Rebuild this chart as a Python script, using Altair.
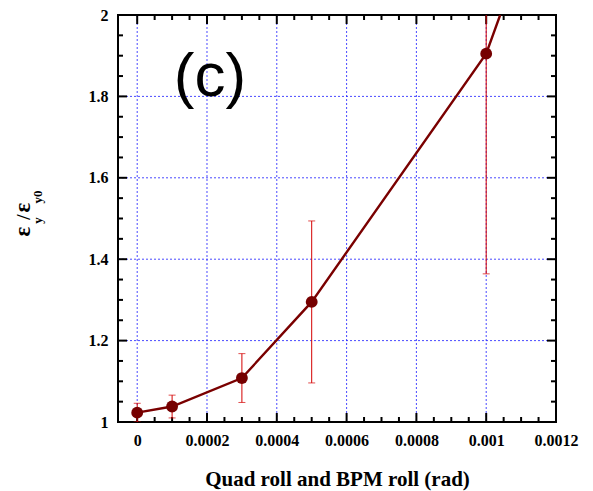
import altair as alt
import pandas as pd

# ---- data ----
roll = [0.0, 0.0001, 0.0003, 0.0005, 0.001]
ratio = [1.023, 1.038, 1.108, 1.295, 1.905]
err = [0.023, 0.028, 0.060, 0.199, 0.541]

curve_roll = [0.0, 0.0001, 0.0003, 0.0005, 0.001, 0.00104]
curve_ratio = [1.023, 1.038, 1.108, 1.295, 1.905, 2.0]

x_major = [0.0, 0.0002, 0.0004, 0.0006, 0.0008, 0.001, 0.0012]
x_minor = [0.00005, 0.0001, 0.00015, 0.00025, 0.0003, 0.00035, 0.00045, 0.0005,
           0.00055, 0.00065, 0.0007, 0.00075, 0.00085, 0.0009, 0.00095, 0.00105,
           0.0011, 0.00115]
y_major = [1.0, 1.2, 1.4, 1.6, 1.8, 2.0]
y_minor = [1.05, 1.1, 1.15, 1.25, 1.3, 1.35, 1.45, 1.5, 1.55, 1.65, 1.7, 1.75,
           1.85, 1.9, 1.95]
x_grid = [0.0, 0.0002, 0.0004, 0.0006, 0.0008, 0.001]
y_grid = [1.2, 1.4, 1.6, 1.8]

x_title = "Quad roll and BPM roll (rad)"
panel_label = "(c)"

pts = pd.DataFrame({"roll": roll, "ratio": ratio, "err": err})
pts["lo"] = pts["ratio"] - pts["err"]
pts["hi"] = pts["ratio"] + pts["err"]
curve = pd.DataFrame({"roll": curve_roll, "ratio": curve_ratio})

SERIF = "Liberation Serif"
SANS = "Liberation Sans"
W, H = 438, 407
MAJ, MIN = 9, 5
xs = alt.Scale(domain=[-0.000055, 0.0012], nice=False, zero=False)
ys = alt.Scale(domain=[1.0, 2.0], nice=False, zero=False)
GRID = "#2a2aff"

# grid lines
vgrid = alt.Chart(pd.DataFrame({"v": x_grid})).mark_rule(
    color=GRID, strokeDash=[2, 2], strokeWidth=1, opacity=0.85
).encode(x=alt.X("v:Q", scale=xs, axis=None))
hgrid = alt.Chart(pd.DataFrame({"v": y_grid})).mark_rule(
    color=GRID, strokeDash=[2, 2], strokeWidth=1, opacity=0.85
).encode(y=alt.Y("v:Q", scale=ys, axis=None))


# inward ticks on all four sides
def xticks(vals, length):
    d = pd.DataFrame({"v": vals})
    b = alt.Chart(d).mark_rule(color="black", strokeWidth=2).encode(
        x=alt.X("v:Q", scale=xs, axis=None), y=alt.value(H - length), y2=alt.value(H))
    t = alt.Chart(d).mark_rule(color="black", strokeWidth=2).encode(
        x=alt.X("v:Q", scale=xs, axis=None), y=alt.value(0), y2=alt.value(length))
    return b + t


def yticks(vals, length):
    d = pd.DataFrame({"v": vals})
    l = alt.Chart(d).mark_rule(color="black", strokeWidth=2).encode(
        y=alt.Y("v:Q", scale=ys, axis=None), x=alt.value(0), x2=alt.value(length))
    r = alt.Chart(d).mark_rule(color="black", strokeWidth=2).encode(
        y=alt.Y("v:Q", scale=ys, axis=None), x=alt.value(W - length), x2=alt.value(W))
    return l + r


ticks = xticks(x_major, MAJ) + xticks(x_minor, MIN) + yticks(y_major, MAJ) + yticks(y_minor, MIN)

bars = alt.Chart(pts).mark_rule(color="#d40000", strokeWidth=1, clip=True).encode(
    x=alt.X("roll:Q", scale=xs, axis=None),
    y=alt.Y("lo:Q", scale=ys, axis=None),
    y2="hi:Q",
)
caps_lo = alt.Chart(pts).mark_tick(color="#d40000", orient="horizontal", size=7,
                                   thickness=1, clip=True).encode(
    x=alt.X("roll:Q", scale=xs, axis=None),
    y=alt.Y("lo:Q", scale=ys, axis=None),
)
caps_hi = alt.Chart(pts).mark_tick(color="#d40000", orient="horizontal", size=7,
                                   thickness=1, clip=True).encode(
    x=alt.X("roll:Q", scale=xs, axis=None),
    y=alt.Y("hi:Q", scale=ys, axis=None),
)

line = alt.Chart(curve).mark_line(color="#7a0000", strokeWidth=2.4, clip=True).encode(
    x=alt.X("roll:Q", scale=xs, axis=None),
    y=alt.Y("ratio:Q", scale=ys, axis=None),
)

points = alt.Chart(pts).mark_circle(color="#760000", size=140, opacity=1).encode(
    x=alt.X("roll:Q", scale=xs, axis=alt.Axis(
        orient="bottom", values=x_major, grid=False, domain=False, ticks=False,
        tickSize=0, labelExpr="format(datum.value, '~g')", labelFont=SERIF,
        labelFontWeight="bold", labelFontSize=16, labelColor="black",
        labelPadding=10, labelFlush=False, labelOverlap=False,
        title=x_title, titleFont=SERIF, titleFontWeight="bold",
        titleFontSize=21, titleColor="black", titlePadding=20)),
    y=alt.Y("ratio:Q", scale=ys, axis=alt.Axis(
        orient="left", values=y_major, grid=False, domain=False, ticks=False,
        tickSize=0, labelExpr="format(datum.value, '~g')", labelFont=SERIF,
        labelFontWeight="bold", labelFontSize=16, labelColor="black",
        labelPadding=10, labelOverlap=False, title=None)),
)

one = pd.DataFrame({"k": [0]})


def label(text, x, y, size, font=SERIF, weight="bold", angle=270):
    return alt.Chart(one).mark_text(
        text=text, font=font, fontSize=size, fontWeight=weight, angle=angle,
        align="center", baseline="alphabetic", color="black",
    ).encode(x=alt.value(x), y=alt.value(y))


ylabel = (
    label("ε", -88, 216.5, 23)
    + label("y", -76, 205.5, 13)
    + label("/", -88, 202, 19)
    + label("ε", -88, 192.5, 23)
    + label("y0", -76, 182, 13)
)

panel = alt.Chart(one).mark_text(
    text=panel_label, font=SANS, fontSize=62, fontWeight="normal", align="center",
    baseline="alphabetic", color="black",
).encode(x=alt.value(92), y=alt.value(81))

chart = alt.layer(
    vgrid, hgrid, ticks, bars, caps_lo, caps_hi, line, points, ylabel, panel,
).resolve_axis(x="independent", y="independent").properties(
    width=W, height=H,
    autosize=alt.AutoSizeParams(type="none"),
    padding={"left": 118, "top": 15, "right": 37, "bottom": 69},
    background="white",
).configure_view(stroke="black", strokeWidth=2)

chart.save("out.html", embed_options={"renderer": "svg", "actions": False})
